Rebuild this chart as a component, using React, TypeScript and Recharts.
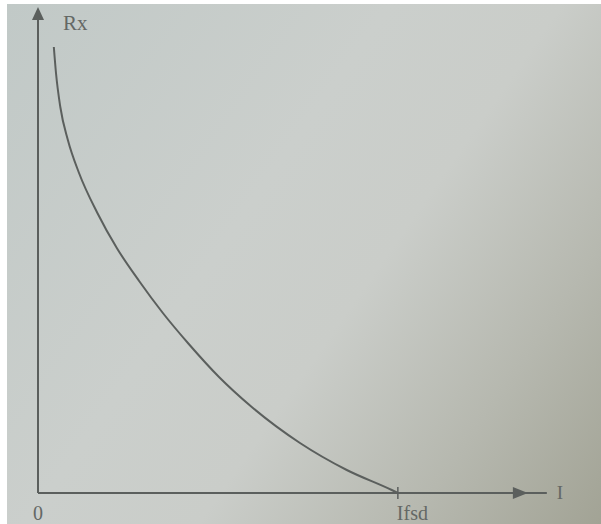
import { LineChart, Line, XAxis, YAxis, ReferenceLine, ReferenceDot } from "recharts";

// I as a fraction of Ifsd, Rx in arbitrary units
const currentI = [0.044, 0.05, 0.062, 0.083, 0.114, 0.165, 0.219, 0.281, 0.347, 0.419, 0.503, 0.594, 0.728, 0.858, 0.983, 1.0];
const resistanceRx = [4.46, 4.2, 3.86, 3.53, 3.2, 2.8, 2.45, 2.12, 1.8, 1.49, 1.16, 0.86, 0.5, 0.23, 0.03, 0];
const xTicks = [0, 1];
const xTickLabels = ["0", "Ifsd"];
const xAxisName = "I";
const yAxisName = "Rx";

const data = currentI.map((i, k) => ({ i, rx: resistanceRx[k] }));

const ink = "#5b5f5d";
const textInk = "#646865";
const font = "'Liberation Serif', 'DejaVu Serif', serif";

const XTick = (props: any) => {
  const { x, y, payload, index } = props;
  const label = xTickLabels[index] ?? String(payload.value);
  const first = index === 0;
  return (
    <text
      x={first ? x : x - 1}
      y={y + 19}
      textAnchor={first ? "middle" : "start"}
      fontFamily={font}
      fontSize={20}
      fill={textInk}
    >
      {label}
    </text>
  );
};

const RightArrow = (props: any) => {
  const { cx, cy } = props;
  return (
    <g>
      <polygon points={`${cx - 7},${cy - 6} ${cx + 8},${cy} ${cx - 7},${cy + 6}`} fill={ink} />
      <text x={cx + 37} y={cy + 6} fontFamily={font} fontSize={19} fill={textInk}>
        {xAxisName}
      </text>
    </g>
  );
};

const UpArrow = (props: any) => {
  const { cx, cy } = props;
  return (
    <g>
      <polygon points={`${cx - 6},${cy + 13} ${cx},${cy} ${cx + 6},${cy + 13}`} fill={ink} />
      <text x={cx + 25} y={cy + 23} fontFamily={font} fontSize={21} fill={textInk}>
        {yAxisName}
      </text>
    </g>
  );
};

export default function App() {
  return (
    <div style={{ position: "absolute", top: 0, left: 0, width: 601, height: 524, background: "#ffffff", overflow: "hidden" }}>
      <div
        style={{
          position: "absolute",
          left: 7,
          top: 4,
          right: 0,
          bottom: 0,
          background:
            "linear-gradient(125deg, #c1c9c7 0%, #cbcfcc 40%, #cacdc9 58%, #b6b8af 80%, #a2a395 100%)",
        }}
      />
      <div style={{ position: "absolute", top: 0, left: 0 }}>
        <LineChart width={601} height={524} data={data} margin={{ top: 3, right: 52, left: 38, bottom: 6 }}>
          <XAxis
            dataKey="i"
            type="number"
            domain={[0, 1.42]}
            ticks={xTicks}
            tick={<XTick />}
            axisLine={false}
            tickLine={false}
            height={25}
            interval={0}
          />
          <YAxis type="number" domain={[0, 4.9]} hide />
          <ReferenceLine segment={[{ x: 0, y: 0 }, { x: 1.414, y: 0 }]} stroke={ink} strokeWidth={2} ifOverflow="visible" />
          <ReferenceLine segment={[{ x: 0, y: 0 }, { x: 0, y: 4.8 }]} stroke={ink} strokeWidth={2} ifOverflow="visible" />
          <ReferenceLine segment={[{ x: 1, y: 0.06 }, { x: 1, y: -0.06 }]} stroke={ink} strokeWidth={1.5} ifOverflow="visible" />
          <ReferenceDot x={1.339} y={0} r={0} shape={<RightArrow />} ifOverflow="visible" />
          <ReferenceDot x={0} y={4.86} r={0} shape={<UpArrow />} ifOverflow="visible" />
          <Line
            dataKey="rx"
            type="monotone"
            stroke={ink}
            strokeWidth={2}
            dot={false}
            isAnimationActive={false}
          />
        </LineChart>
      </div>
    </div>
  );
}
